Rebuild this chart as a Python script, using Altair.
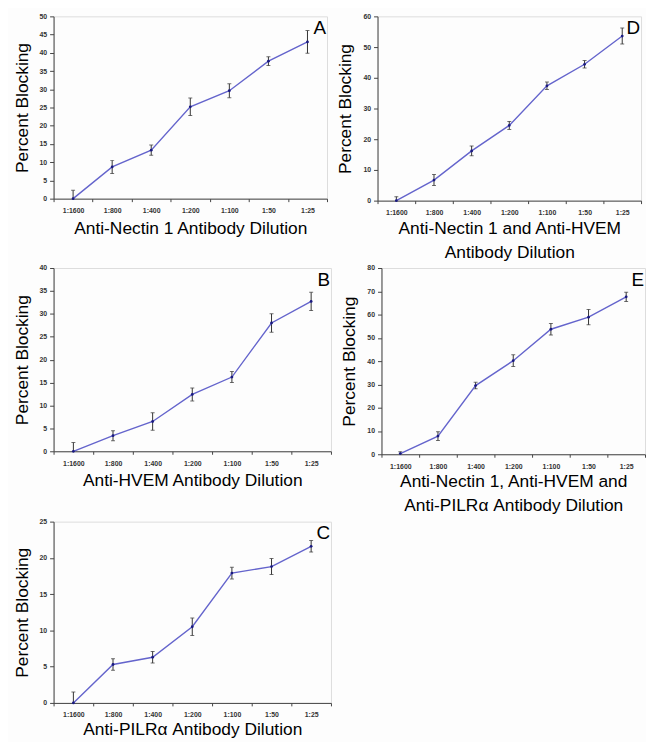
import altair as alt
import pandas as pd

dilutions = ["1:1600", "1:800", "1:400", "1:200", "1:100", "1:50", "1:25"]

a_vals = [0.0, 8.7, 13.3, 25.2, 29.6, 37.7, 43.0]
a_err = [2.3, 1.8, 1.4, 2.4, 1.9, 1.2, 3.1]

d_vals = [0.0, 6.7, 16.2, 24.5, 37.4, 44.4, 53.6]
d_err = [1.3, 1.8, 1.6, 1.3, 1.2, 1.2, 2.6]

b_vals = [0.0, 3.4, 6.5, 12.4, 16.2, 28.0, 32.7]
b_err = [1.9, 1.1, 1.9, 1.4, 1.2, 2.0, 2.0]

e_vals = [0.3, 7.8, 29.5, 40.2, 53.7, 58.9, 67.6]
e_err = [0.8, 1.9, 1.4, 2.5, 2.5, 3.3, 2.0]

c_vals = [0.0, 5.3, 6.3, 10.5, 17.9, 18.8, 21.6]
c_err = [1.5, 0.8, 0.8, 1.2, 0.8, 1.1, 0.8]

FONT = "Liberation Sans"
LINE = "#6464cc"


def panel(vals, errs, ymax, step, title, letter, width, height, xtitle_pad=6):
    df = pd.DataFrame({
        "dil": dilutions,
        "val": vals,
        "lo": [v - e for v, e in zip(vals, errs)],
        "hi": [v + e for v, e in zip(vals, errs)],
    })
    xaxis = alt.Axis(title=title, tickBand="extent", labelAngle=0,
                     labelFontSize=7, labelColor="#333", labelFontWeight="bold",
                     titleFontSize=17.5, titleFontWeight="normal", titleColor="#000",
                     titleLineHeight=24,
                     domainColor="#444", tickColor="#444", tickSize=3,
                     labelPadding=5, titlePadding=xtitle_pad)
    xscale = alt.Scale(type="band", paddingInner=0, paddingOuter=0)

    def X():
        return alt.X("dil:N", sort=dilutions, scale=xscale, axis=xaxis)

    yscale = alt.Scale(domain=[0, ymax], nice=False)
    yaxis = alt.Axis(title="Percent Blocking", values=list(range(0, ymax + 1, step)),
                     grid=False, labelFontSize=7, labelColor="#333", labelFontWeight="bold",
                     labelOverlap=False,
                     titleFontSize=17.5, titleFontWeight="normal", titleColor="#000",
                     domainColor="#444", tickColor="#444", tickSize=4, titlePadding=8,
                     labelPadding=3)

    def Y(field):
        return alt.Y(field, scale=yscale, axis=yaxis, title="Percent Blocking")

    base = alt.Chart(df).properties(width=width, height=height)
    err = base.mark_rule(color="#333", strokeWidth=1, clip=True).encode(
        x=X(), y=Y("lo:Q"), y2="hi:Q")
    cap_lo = base.mark_tick(color="#333", size=4, thickness=1, clip=True).encode(
        x=X(), y=Y("lo:Q"))
    cap_hi = base.mark_tick(color="#333", size=4, thickness=1, clip=True).encode(
        x=X(), y=Y("hi:Q"))
    line = base.mark_line(color=LINE, strokeWidth=1.4).encode(x=X(), y=Y("val:Q"))
    pts = base.mark_point(filled=True, color="#1a1a80", size=8, opacity=1).encode(
        x=X(), y=Y("val:Q"))
    lab = alt.Chart(pd.DataFrame({"letter": [letter]})).mark_text(
        font=FONT, fontSize=19, align="right", baseline="top", color="#000"
    ).encode(text="letter:N", x=alt.value(width - 1), y=alt.value(3))
    return alt.layer(err, cap_lo, cap_hi, line, pts, lab)


pa = panel(a_vals, a_err, 50, 5, "Anti-Nectin 1 Antibody Dilution", "A", 276, 184)
pd_ = panel(d_vals, d_err, 60, 10, ["Anti-Nectin 1 and Anti-HVEM", "Antibody Dilution"], "D", 266, 186, xtitle_pad=4)
pb = panel(b_vals, b_err, 40, 5, "Anti-HVEM Antibody Dilution", "B", 280, 185)
pe = panel(e_vals, e_err, 80, 10, ["Anti-Nectin 1, Anti-HVEM and", "Anti-PILRα Antibody Dilution"], "E", 266, 188, xtitle_pad=4)
pc = panel(c_vals, c_err, 25, 5, "Anti-PILRα Antibody Dilution", "C", 280, 183, xtitle_pad=3)

chart = alt.vconcat(
    alt.hconcat(pa, pd_, spacing=8),
    alt.hconcat(pb, pe, spacing=8),
    pc,
    spacing=2,
).properties(
    padding={"left": 4, "top": 0, "right": 0, "bottom": 0},
    background="#fdfdfd",
).configure_view(
    stroke="#cccccc", strokeWidth=1
).configure(
    font=FONT
).configure_axis(
    titleFont=FONT, labelFont=FONT
)

chart.save("out.html", embed_options={"renderer": "svg", "actions": False})
